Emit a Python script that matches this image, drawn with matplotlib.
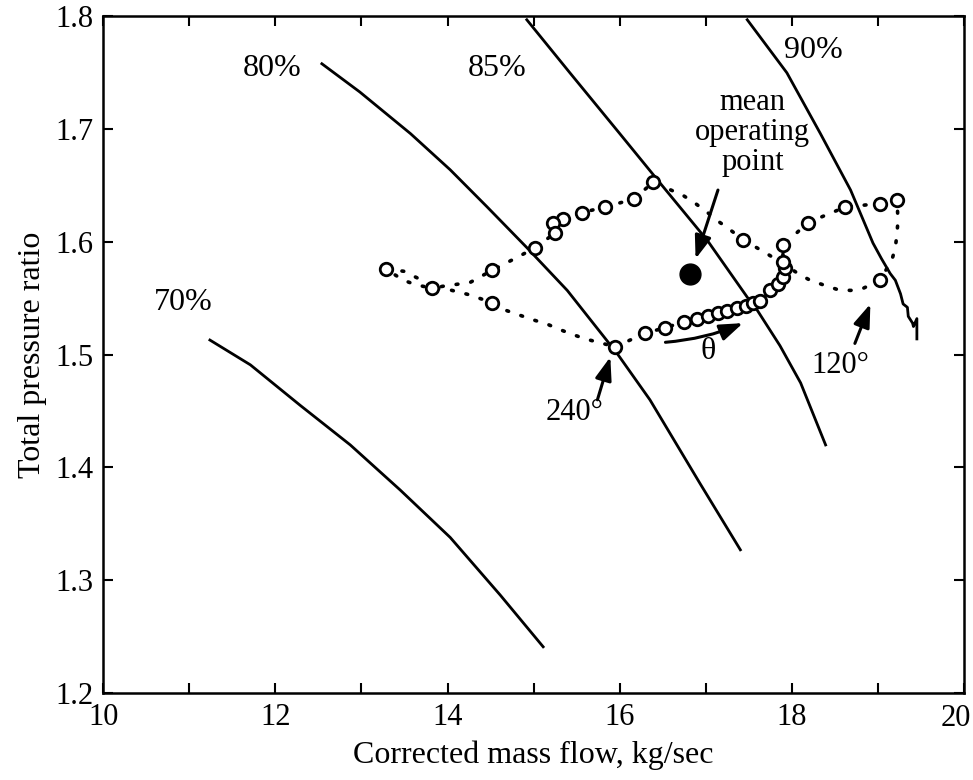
import matplotlib
matplotlib.use('Agg')
from matplotlib import pyplot as plt
from matplotlib.ticker import MultipleLocator, FuncFormatter

plt.rcParams['font.family'] = ['Liberation Serif', 'DejaVu Serif']

# speed lines
speed_70_x = [11.24, 11.71, 12.29, 12.87, 13.45, 14.03, 14.61, 15.11]
speed_70_y = [1.513, 1.491, 1.455, 1.420, 1.380, 1.338, 1.287, 1.241]

speed_80_x = [12.54, 12.98, 13.57, 14.03, 14.46, 14.92, 15.39, 15.69, 15.97,
              16.35, 16.93, 17.40]
speed_80_y = [1.758, 1.733, 1.696, 1.664, 1.631, 1.595, 1.557, 1.528, 1.501,
              1.460, 1.386, 1.327]

speed_85_x = [14.92, 15.42, 16.00, 16.47, 17.02, 17.48, 17.60, 17.86, 18.10, 18.39]
speed_85_y = [1.797, 1.750, 1.696, 1.652, 1.601, 1.551, 1.539, 1.508, 1.475, 1.420]

speed_90_x = [17.48, 17.94, 18.33, 18.68, 18.94, 19.04, 19.14, 19.20, 19.23,
              19.26, 19.29, 19.34, 19.35, 19.40, 19.41, 19.45, 19.45]
speed_90_y = [1.797, 1.750, 1.696, 1.646, 1.599, 1.585, 1.572, 1.566, 1.560,
              1.554, 1.545, 1.542, 1.534, 1.528, 1.525, 1.532, 1.514]

speed_labels = ['70%', '80%', '85%', '90%']
label_x = [10.93, 11.96, 14.58, 18.25]
label_y = [1.546, 1.754, 1.754, 1.770]

# measured circumferential points (open circles)
pts_x = [15.95, 16.29, 16.53, 16.74, 16.90, 17.03, 17.14, 17.25, 17.36, 17.46,
         17.55, 17.63, 17.75, 17.84, 17.90, 17.92, 17.89, 17.90,
         18.18, 18.62, 19.02, 19.22, 19.02,
         17.43, 16.39, 16.16, 15.83, 15.56, 15.34, 15.23, 15.25, 15.02,
         14.52, 13.82, 13.28, 14.52]
pts_y = [1.507, 1.519, 1.524, 1.529, 1.532, 1.534, 1.537, 1.539, 1.541, 1.543,
         1.546, 1.548, 1.557, 1.563, 1.569, 1.577, 1.582, 1.597,
         1.617, 1.631, 1.634, 1.637, 1.566,
         1.602, 1.653, 1.638, 1.631, 1.626, 1.620, 1.617, 1.608, 1.595,
         1.575, 1.559, 1.576, 1.546]

# dotted trace through the revolution
trace_x = [15.95, 16.29, 16.53, 16.74, 16.90, 17.03, 17.14, 17.25, 17.36, 17.46,
           17.55, 17.63, 17.75, 17.84, 17.90, 17.92, 17.89, 17.90,
           18.18, 18.62, 19.02, 19.22, 19.23, 19.22, 19.20, 19.16, 19.02,
           18.83, 18.68, 18.52, 18.36, 18.21, 18.07, 17.95, 17.70, 17.43,
           17.26, 17.13, 17.02, 16.88, 16.74, 16.39, 16.16, 15.83, 15.56,
           15.34, 15.23, 15.25, 15.02, 14.80, 14.52, 14.26, 13.97, 13.82,
           13.65, 13.49, 13.28, 13.49, 13.63, 13.82, 14.00, 14.26, 14.52,
           14.69, 14.84, 14.99, 15.16, 15.28, 15.45, 15.60, 15.75, 15.95]
trace_y = [1.507, 1.519, 1.524, 1.529, 1.532, 1.534, 1.537, 1.539, 1.541, 1.543,
           1.546, 1.548, 1.557, 1.563, 1.569, 1.577, 1.582, 1.597,
           1.617, 1.631, 1.634, 1.637, 1.619, 1.608, 1.595, 1.584, 1.566,
           1.559, 1.557, 1.558, 1.562, 1.566, 1.572, 1.578, 1.590, 1.602,
           1.612, 1.619, 1.626, 1.634, 1.641, 1.653, 1.638, 1.631, 1.626,
           1.620, 1.617, 1.608, 1.595, 1.586, 1.575, 1.564, 1.561, 1.559,
           1.568, 1.574, 1.576, 1.566, 1.562, 1.559, 1.558, 1.553, 1.546,
           1.539, 1.535, 1.531, 1.527, 1.523, 1.518, 1.514, 1.511, 1.507]

mean_x, mean_y = 16.82, 1.572

fig = plt.figure(figsize=(9.73, 7.8), dpi=100)
ax = fig.add_axes([0.106, 0.1115, 0.885, 0.8675])

for xs, ys in [(speed_70_x, speed_70_y), (speed_80_x, speed_80_y),
               (speed_85_x, speed_85_y), (speed_90_x, speed_90_y)]:
    ax.plot(xs, ys, color='black', lw=2.0, solid_joinstyle='round')

for lab, lx, ly in zip(speed_labels, label_x, label_y):
    ax.text(lx, ly, lab, fontsize=23, ha='center', va='center')

ax.plot(trace_x, trace_y, color='black', lw=2.6, linestyle=(0, (0.5, 3.6)),
        dash_capstyle='round')
ax.plot(pts_x, pts_y, 'o', mfc='white', mec='black', mew=2.0, ms=9,
        linestyle='none')
ax.plot(mean_x, mean_y, 'o', color='black', ms=15)

arrow = dict(arrowstyle='-|>,head_length=0.7,head_width=0.25', color='black',
             lw=2.2, mutation_scale=20, shrinkA=0, shrinkB=0)
ax.annotate('', xy=(16.88, 1.585), xytext=(17.14, 1.646), arrowprops=arrow)
ax.text(17.54, 1.697, 'mean\noperating\npoint', fontsize=22, ha='center',
        va='center', linespacing=1.05)
ax.annotate('', xy=(15.89, 1.498), xytext=(15.74, 1.460), arrowprops=arrow)
ax.text(15.47, 1.449, '240°', fontsize=22, ha='center', va='center')
ax.annotate('', xy=(18.91, 1.545), xytext=(18.73, 1.510), arrowprops=arrow)
ax.text(18.56, 1.490, '120°', fontsize=22, ha='center', va='center')
ax.annotate('', xy=(17.43, 1.528), xytext=(16.53, 1.511),
            arrowprops=dict(arrow, connectionstyle='arc3,rad=0.08'))
ax.text(17.03, 1.503, 'θ', fontsize=23, ha='center', va='center')

ax.set_xlim(10, 20)
ax.set_ylim(1.2, 1.8)
ax.xaxis.set_major_locator(MultipleLocator(2))
ax.xaxis.set_minor_locator(MultipleLocator(1))
ax.yaxis.set_major_locator(MultipleLocator(0.1))
# the 20 label sits at the right edge; drawn separately a little to the left
ax.xaxis.set_major_formatter(FuncFormatter(lambda v, p: '' if v > 19.5 else f'{v:g}'))
ax.tick_params(which='both', direction='in', top=True, right=True,
               length=7, width=1.5, labelsize=22, pad=7)
ax.annotate('20', xy=(20, 0), xycoords=('data', 'axes fraction'),
            xytext=(-6, -8), textcoords='offset points', ha='center', va='top',
            fontsize=22)
for s in ax.spines.values():
    s.set_linewidth(1.8)

ax.set_xlabel('Corrected mass flow, kg/sec', fontsize=23, labelpad=6)
ax.set_ylabel('Total pressure ratio', fontsize=23, labelpad=6)

fig.savefig('out.png', dpi=100)
